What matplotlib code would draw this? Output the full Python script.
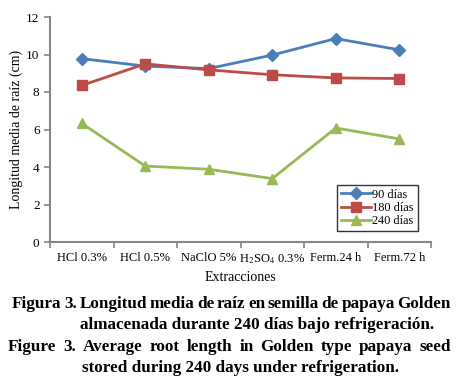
import matplotlib
matplotlib.use("Agg")
import matplotlib.pyplot as plt
import numpy as np

plt.rcParams['font.family'] = ['Liberation Serif', 'DejaVu Serif']
plt.rcParams['mathtext.fontset'] = 'stix'

categories = ['HCl 0.3%', 'HCl 0.5%', 'NaClO 5%', r'H$_2$SO$_4$ 0.3%', 'Ferm.24 h', 'Ferm.72 h']
dias_90 = [9.78, 9.38, 9.25, 9.97, 10.85, 10.25]
dias_180 = [8.35, 9.50, 9.18, 8.92, 8.75, 8.72]
dias_240 = [6.33, 4.05, 3.88, 3.38, 6.08, 5.50]
series_labels = ['90 días', '180 días', '240 días']

caption = [
    'Figura 3. Longitud media de raíz en semilla de papaya Golden',
    'almacenada durante 240 días bajo refrigeración.',
    'Figure 3. Average root length in Golden type papaya seed',
    'stored during 240 days under refrigeration.',
]

W, H = 458, 383
fig = plt.figure(figsize=(W / 100, H / 100), dpi=100)
ax = fig.add_axes([50 / W, 1 - 242 / H, (431 - 50) / W, (242 - 17) / H])

x = np.arange(len(categories))
ax.plot(x, dias_90, color='#4A7EBB', marker='D', markersize=6, linewidth=2, label=series_labels[0])
ax.plot(x, dias_180, color='#BE4B48', marker='s', markersize=7, linewidth=2, label=series_labels[1])
ax.plot(x, dias_240, color='#98B954', marker='^', markersize=7, linewidth=2, label=series_labels[2])

ax.set_xlim(-0.5, len(categories) - 0.5)
ax.set_ylim(0, 12)
ax.set_yticks(range(0, 13, 2))
ax.set_xticks(np.arange(-0.5, len(categories), 1.0))
ax.set_xticklabels([])
ax.set_xticks(x, minor=True)
ax.set_xticklabels(categories, minor=True, fontsize=9)
ax.tick_params(axis='x', which='minor', length=0, pad=7)
ax.tick_params(axis='x', which='major', length=4, color='#868686', width=1.2)
ax.tick_params(axis='y', length=4, color='#868686', width=1.2, labelsize=9.5)
for s in ['top', 'right']:
    ax.spines[s].set_visible(False)
for s in ['left', 'bottom']:
    ax.spines[s].set_color('#868686')
    ax.spines[s].set_linewidth(1.5)

ax.set_xlabel('Extracciones', fontsize=10, labelpad=4)
ax.set_ylabel('Longitud media de raíz (cm)', fontsize=10, labelpad=2)

leg = ax.legend(loc='lower right', bbox_to_anchor=(0.965, 0.05), fontsize=8.8,
                frameon=True, fancybox=False, edgecolor='black', handlelength=2.5,
                handletextpad=0.1, borderpad=0.3, labelspacing=0.1, borderaxespad=0)
leg.get_frame().set_linewidth(1.0)

# caption, bold, lines 1 and 3 justified
renderer = fig.canvas.get_renderer()
fs = 12.3

def justified(line, y, x0, x1):
    words = line.split(' ')
    texts = [fig.text(0, y, w, fontsize=fs, fontweight='bold', ha='left', va='baseline') for w in words]
    widths = [t.get_window_extent(renderer).width for t in texts]
    gap = ((x1 - x0) - sum(widths)) / (len(words) - 1)
    pos = x0
    for t, w in zip(texts, widths):
        t.set_x(pos / W)
        pos += w + gap

justified(caption[0], 1 - 308 / H, 12, 451)
fig.text(257 / W, 1 - 329 / H, caption[1], fontsize=fs, fontweight='bold', ha='center', va='baseline')
justified(caption[2], 1 - 351 / H, 8, 451)
fig.text(241 / W, 1 - 372 / H, caption[3], fontsize=fs, fontweight='bold', ha='center', va='baseline')

fig.savefig('out.png', dpi=100)
